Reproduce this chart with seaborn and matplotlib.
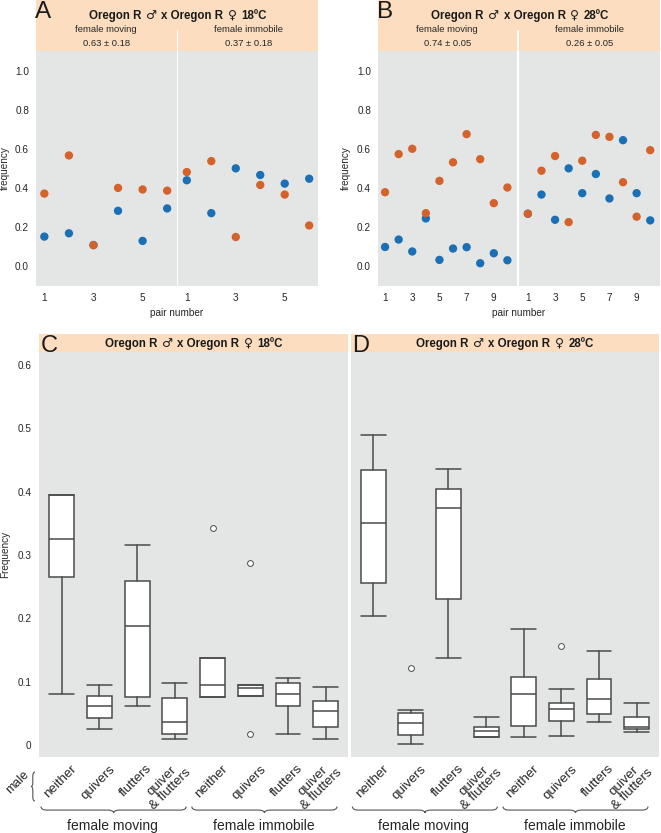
import re
import numpy as np
import pandas as pd
import matplotlib
matplotlib.use("Agg")
import matplotlib.pyplot as plt
import matplotlib.transforms as mtransforms
import seaborn as sns
from matplotlib.path import Path
from matplotlib.patches import PathPatch

# ---------------- data ----------------
pairs_A = [1, 2, 3, 4, 5, 6]
pairs_B = [1, 2, 3, 4, 5, 6, 7, 8, 9, 10]

A_moving_orange = [0.371, 0.566, 0.107, 0.400, 0.392, 0.386]
A_moving_blue = [0.151, 0.168, 0.108, 0.283, 0.129, 0.295]
A_immobile_orange = [0.481, 0.537, 0.149, 0.415, 0.366, 0.208]
A_immobile_blue = [0.439, 0.271, 0.500, 0.466, 0.422, 0.447]

B_moving_orange = [0.378, 0.573, 0.600, 0.271, 0.436, 0.531, 0.675, 0.547, 0.322, 0.402]
B_moving_blue = [0.098, 0.136, 0.075, 0.244, 0.032, 0.090, 0.097, 0.015, 0.066, 0.030]
B_immobile_orange = [0.268, 0.488, 0.563, 0.225, 0.539, 0.671, 0.661, 0.429, 0.253, 0.593]
B_immobile_blue = [0.268, 0.366, 0.237, 0.500, 0.373, 0.471, 0.346, 0.644, 0.373, 0.234]

title_A = "Oregon R \u2642 x Oregon R \u2640 18\u00baC"
title_B = "Oregon R \u2642 x Oregon R \u2640 28\u00baC"
A_moving_share = "0.63 \u00b1 0.18"
A_immobile_share = "0.37 \u00b1 0.18"
B_moving_share = "0.74 \u00b1 0.05"
B_immobile_share = "0.26 \u00b1 0.05"

box_categories = ["neither", "quivers", "flutters", "quiver\n& flutters"] * 2
groups = ["female moving", "female immobile"]

# panel C (18ºC)
C_whislo = [0.081, 0.025, 0.061, 0.010, 0.0764, 0.077, 0.018, 0.010]
C_q1 = [0.265, 0.043, 0.076, 0.017, 0.0764, 0.077, 0.062, 0.029]
C_med = [0.325, 0.062, 0.188, 0.036, 0.095, 0.0895, 0.081, 0.053]
C_q3 = [0.395, 0.078, 0.259, 0.075, 0.138, 0.095, 0.098, 0.069]
C_whishi = [0.395, 0.095, 0.316, 0.098, 0.138, 0.095, 0.106, 0.091]
C_fliers = [[], [], [], [], [0.342], [0.288, 0.017], [], []]

# panel D (28ºC)
D_whislo = [0.203, 0.001, 0.137, 0.012, 0.013, 0.015, 0.036, 0.020]
D_q1 = [0.256, 0.016, 0.230, 0.0126, 0.030, 0.038, 0.049, 0.0246]
D_med = [0.351, 0.034, 0.374, 0.0215, 0.080, 0.0565, 0.072, 0.029]
D_q3 = [0.435, 0.050, 0.405, 0.028, 0.107, 0.067, 0.105, 0.045]
D_whishi = [0.490, 0.055, 0.436, 0.0435, 0.183, 0.089, 0.148, 0.067]
D_fliers = [[], [0.121], [], [], [], [0.157], [], []]

scatter_yticks = [0.0, 0.2, 0.4, 0.6, 0.8, 1.0]
box_yticks = [0, 0.1, 0.2, 0.3, 0.4, 0.5, 0.6]
box_yticklabels = ["0", "0.1", "0.2", "0.3", "0.4", "0.5", "0.6"]

# ---------------- style ----------------
sns.set_theme(style="white")
plt.rcParams["font.family"] = ["Liberation Sans", "DejaVu Sans"]

W, H = 661, 833
ORANGE = "#D4622A"
BLUE = "#1B6FB5"
GREY = "#E4E5E5"
PEACH = "#FDDDBF"
LINE = "#4A4A4A"
TXT = "#262626"

fig = plt.figure(figsize=(W / 100, H / 100), dpi=100)
fig.patch.set_facecolor("white")
renderer = fig.canvas.get_renderer()


def rect(x0, y0, x1, y1):
    return [x0 / W, 1 - y1 / H, (x1 - x0) / W, (y1 - y0) / H]


def fx(x):
    return x / W


def fy(y):
    return 1 - y / H


def blank(ax, color):
    ax.set_facecolor(color)
    ax.set_xticks([])
    ax.set_yticks([])
    for s in ax.spines.values():
        s.set_visible(False)


def style_axis(ax):
    ax.set_facecolor(GREY)
    for s in ax.spines.values():
        s.set_visible(False)
    ax.tick_params(axis="both", colors="#555555", labelcolor=TXT, length=3.5,
                   width=0.8, labelsize=7.2, pad=1.5, direction="out")
    ax.set_xlabel("")
    ax.set_ylabel("")


def rich_title(cx, baseline_y, text):
    """Bold title with thin sex symbols, centred at cx (pixels)."""
    parts = re.split("([\u2642\u2640])", text)
    sym_kw = dict(family="DejaVu Sans", fontsize=8.8, fontweight="normal")
    txt_kw = dict(family="Liberation Sans", fontsize=8.3, fontweight="bold")
    t1 = fig.text(0, 0, "x x", **txt_kw)
    t2 = fig.text(0, 0, "xx", **txt_kw)
    space = t1.get_window_extent(renderer).width - t2.get_window_extent(renderer).width
    t1.remove()
    t2.remove()
    items = []
    for p in parts:
        if p in ("\u2642", "\u2640"):
            items.append((p, sym_kw, 0.4, 0.4))
        else:
            lead = len(p) - len(p.lstrip(" "))
            trail = len(p) - len(p.rstrip(" "))
            if p.strip():
                items.append((p.strip(), txt_kw, lead, trail))
    arts = []
    total = 0
    for s, kw, lead, trail in items:
        t = fig.text(0, fy(baseline_y), s, ha="left", va="baseline",
                     color="#1a1a1a", **kw)
        w = t.get_window_extent(renderer).width
        arts.append((t, w, lead, trail))
        total += w + (lead + trail) * space
    x = cx - total / 2
    for t, w, lead, trail in arts:
        x += lead * space
        t.set_x(fx(x))
        x += w + trail * space


def scatter_panel(x0, xd0, xd1, x1, pairs, mo, mb, io, ib, xlim_m, xlim_i,
                  xticks, title, letter, share_m, share_i, ylab_x):
    hdr = fig.add_axes(rect(x0, 0, x1, 29.5))
    blank(hdr, PEACH)
    s1 = fig.add_axes(rect(x0, 29, xd0, 51))
    blank(s1, PEACH)
    s2 = fig.add_axes(rect(xd1, 29, x1, 51))
    blank(s2, PEACH)
    axes = []
    for (a0, a1, o, b, xl) in [(x0, xd0, mo, mb, xlim_m), (xd1, x1, io, ib, xlim_i)]:
        ax = fig.add_axes(rect(a0, 51, a1, 285.7))
        df = pd.DataFrame({
            "pair": list(pairs) + list(pairs),
            "frequency": list(b) + list(o),
            "series": ["blue"] * len(pairs) + ["orange"] * len(pairs),
        })
        sns.scatterplot(data=df, x="pair", y="frequency", hue="series",
                        palette={"blue": BLUE, "orange": ORANGE}, s=36,
                        edgecolor="none", linewidth=0, legend=False, ax=ax)
        ax.set_xlim(*xl)
        ax.set_ylim(-0.1, 1.1)
        style_axis(ax)
        ax.set_xticks(xticks)
        ax.set_xticklabels([str(t) for t in xticks])
        axes.append(ax)
    axes[0].set_yticks(scatter_yticks)
    axes[0].set_yticklabels([f"{v:.1f}" for v in scatter_yticks])
    axes[1].set_yticks([])
    cx = (x0 + x1) / 2
    rich_title(cx + 1, 19, title)
    fig.text(fx((x0 + xd0) / 2), fy(29.5), "female moving", ha="center",
             va="center", fontsize=6.8, color=TXT)
    fig.text(fx((x0 + xd0) / 2), fy(43.5), share_m, ha="center",
             va="center", fontsize=6.8, color=TXT)
    fig.text(fx((xd1 + x1) / 2), fy(29.5), "female immobile", ha="center",
             va="center", fontsize=6.8, color=TXT)
    fig.text(fx((xd1 + x1) / 2), fy(43.5), share_i, ha="center",
             va="center", fontsize=6.8, color=TXT)
    fig.text(fx(x0 - 1), fy(18), letter, ha="left", va="baseline", fontsize=17.5,
             color="#1a1a1a")
    fig.text(fx(ylab_x), fy(168), "frequency", rotation=90, ha="center",
             va="center", fontsize=7.2, color=TXT)
    fig.text(fx(cx), fy(313), "pair number", ha="center", va="center",
             fontsize=7.2, color=TXT)


scatter_panel(36, 176.5, 178.5, 318, pairs_A, A_moving_orange, A_moving_blue,
              A_immobile_orange, A_immobile_blue, (0.66, 6.38), (0.66, 6.36),
              [1, 3, 5], title_A, "A", A_moving_share, A_immobile_share, 4.5)
scatter_panel(378, 516.5, 518.5, 660, pairs_B, B_moving_orange, B_moving_blue,
              B_immobile_orange, B_immobile_blue, (0.48, 10.67), (0.31, 10.72),
              [1, 3, 5, 7, 9], title_B, "B", B_moving_share, B_immobile_share, 346)


def hbrace(x0, x1, ytop, depth=6.5, lw=0.8):
    xc = (x0 + x1) / 2
    ym = ytop + depth * 0.55
    yb = ytop + depth
    r = 6
    verts = [(x0, ytop), (x0, ym), (x0 + r, ym), (x0 + r, ym),
             (xc - r, ym), (xc, ym), (xc, yb), (xc, ym), (xc + r, ym),
             (x1 - r, ym), (x1 - r, ym), (x1, ym), (x1, ytop)]
    codes = [Path.MOVETO, Path.CURVE3, Path.CURVE3, Path.LINETO,
             Path.LINETO, Path.CURVE3, Path.CURVE3, Path.CURVE3, Path.CURVE3,
             Path.LINETO, Path.LINETO, Path.CURVE3, Path.CURVE3]
    verts = [(fx(x), fy(y)) for x, y in verts]
    fig.add_artist(PathPatch(Path(verts, codes), facecolor="none",
                             edgecolor="#555555", lw=lw,
                             transform=fig.transFigure))


def vbrace(xright, y0, y1, depth=4, lw=0.8):
    yc = (y0 + y1) / 2
    xm = xright - depth * 0.55
    xl = xright - depth
    r = 4
    verts = [(xright, y0), (xm, y0), (xm, y0 + r), (xm, y0 + r),
             (xm, yc - r), (xm, yc), (xl, yc), (xm, yc), (xm, yc + r),
             (xm, y1 - r), (xm, y1 - r), (xm, y1), (xright, y1)]
    codes = [Path.MOVETO, Path.CURVE3, Path.CURVE3, Path.LINETO,
             Path.LINETO, Path.CURVE3, Path.CURVE3, Path.CURVE3, Path.CURVE3,
             Path.LINETO, Path.LINETO, Path.CURVE3, Path.CURVE3]
    verts = [(fx(x), fy(y)) for x, y in verts]
    fig.add_artist(PathPatch(Path(verts, codes), facecolor="none",
                             edgecolor="#555555", lw=lw,
                             transform=fig.transFigure))


def box_panel(x0, x1, title, letter, wlo, q1, med, q3, whi, fl, show_y):
    hdr = fig.add_axes(rect(x0, 334.3, x1, 351.7))
    blank(hdr, PEACH)
    ax = fig.add_axes(rect(x0, 351.7, x1, 757.3))
    stats = []
    for i in range(len(box_categories)):
        stats.append(dict(label=box_categories[i], whislo=wlo[i], q1=q1[i],
                          med=med[i], q3=q3[i], whishi=whi[i], fliers=fl[i]))
    ax.bxp(stats, positions=list(range(len(stats))), widths=0.66,
           capwidths=0.66, patch_artist=True, showfliers=True,
           boxprops=dict(facecolor="white", edgecolor=LINE, linewidth=1.1),
           medianprops=dict(color=LINE, linewidth=1.1),
           whiskerprops=dict(color=LINE, linewidth=1.1),
           capprops=dict(color=LINE, linewidth=1.1),
           flierprops=dict(marker="o", markersize=4.2, markerfacecolor="white",
                           markeredgecolor=LINE, markeredgewidth=0.7))
    ax.set_xlim(-0.595, 7.6)
    ax.set_ylim(-0.0194, 0.621)
    style_axis(ax)
    ax.set_xticks([])
    trans = mtransforms.blended_transform_factory(ax.transData, ax.transAxes)
    for i, lab in enumerate(box_categories):
        if "\n" in lab:
            off = mtransforms.ScaledTranslation(-0.085, -0.01, fig.dpi_scale_trans)
        else:
            off = mtransforms.ScaledTranslation(-0.01, -0.055, fig.dpi_scale_trans)
        ax.text(i, 0, lab, transform=trans + off, rotation=45, ha="center",
                va="top", fontsize=9.5, color=TXT, multialignment="center",
                linespacing=0.92)
    if show_y:
        ax.set_yticks(box_yticks)
        ax.set_yticklabels(box_yticklabels)
        ax.tick_params(axis="y", length=3.5, pad=2, labelsize=7.2)
    else:
        ax.set_yticks([])
    rich_title((x0 + x1) / 2, 347, title)
    fig.text(fx(x0 + 1), fy(351.5), letter, ha="left", va="baseline", fontsize=17,
             color="#1a1a1a")
    disp = ax.transData
    for g, (a, b) in enumerate([(-0.55, 3.3), (3.45, 7.3)]):
        xa = disp.transform((a, 0))[0]
        xb = disp.transform((b, 0))[0]
        hbrace(xa, xb, 806.5)
        fig.text(fx((xa + xb) / 2 - 1), fy(826), groups[g], ha="center",
                 va="center", fontsize=10, color=TXT)
    return ax


axC = box_panel(39.3, 348.3, title_A, "C", C_whislo, C_q1, C_med, C_q3,
                C_whishi, C_fliers, True)
axD = box_panel(350.7, 659.3, title_B, "D", D_whislo, D_q1, D_med, D_q3,
                D_whishi, D_fliers, False)

fig.text(fx(5), fy(554), "Frequency", rotation=90, ha="center", va="center",
         fontsize=7.2, color=TXT)
fig.text(fx(18), fy(782), "male", rotation=45, ha="center", va="center",
         fontsize=9, color=TXT)
vbrace(35, 772, 801)

fig.savefig("out.png", dpi=100, facecolor="white")
